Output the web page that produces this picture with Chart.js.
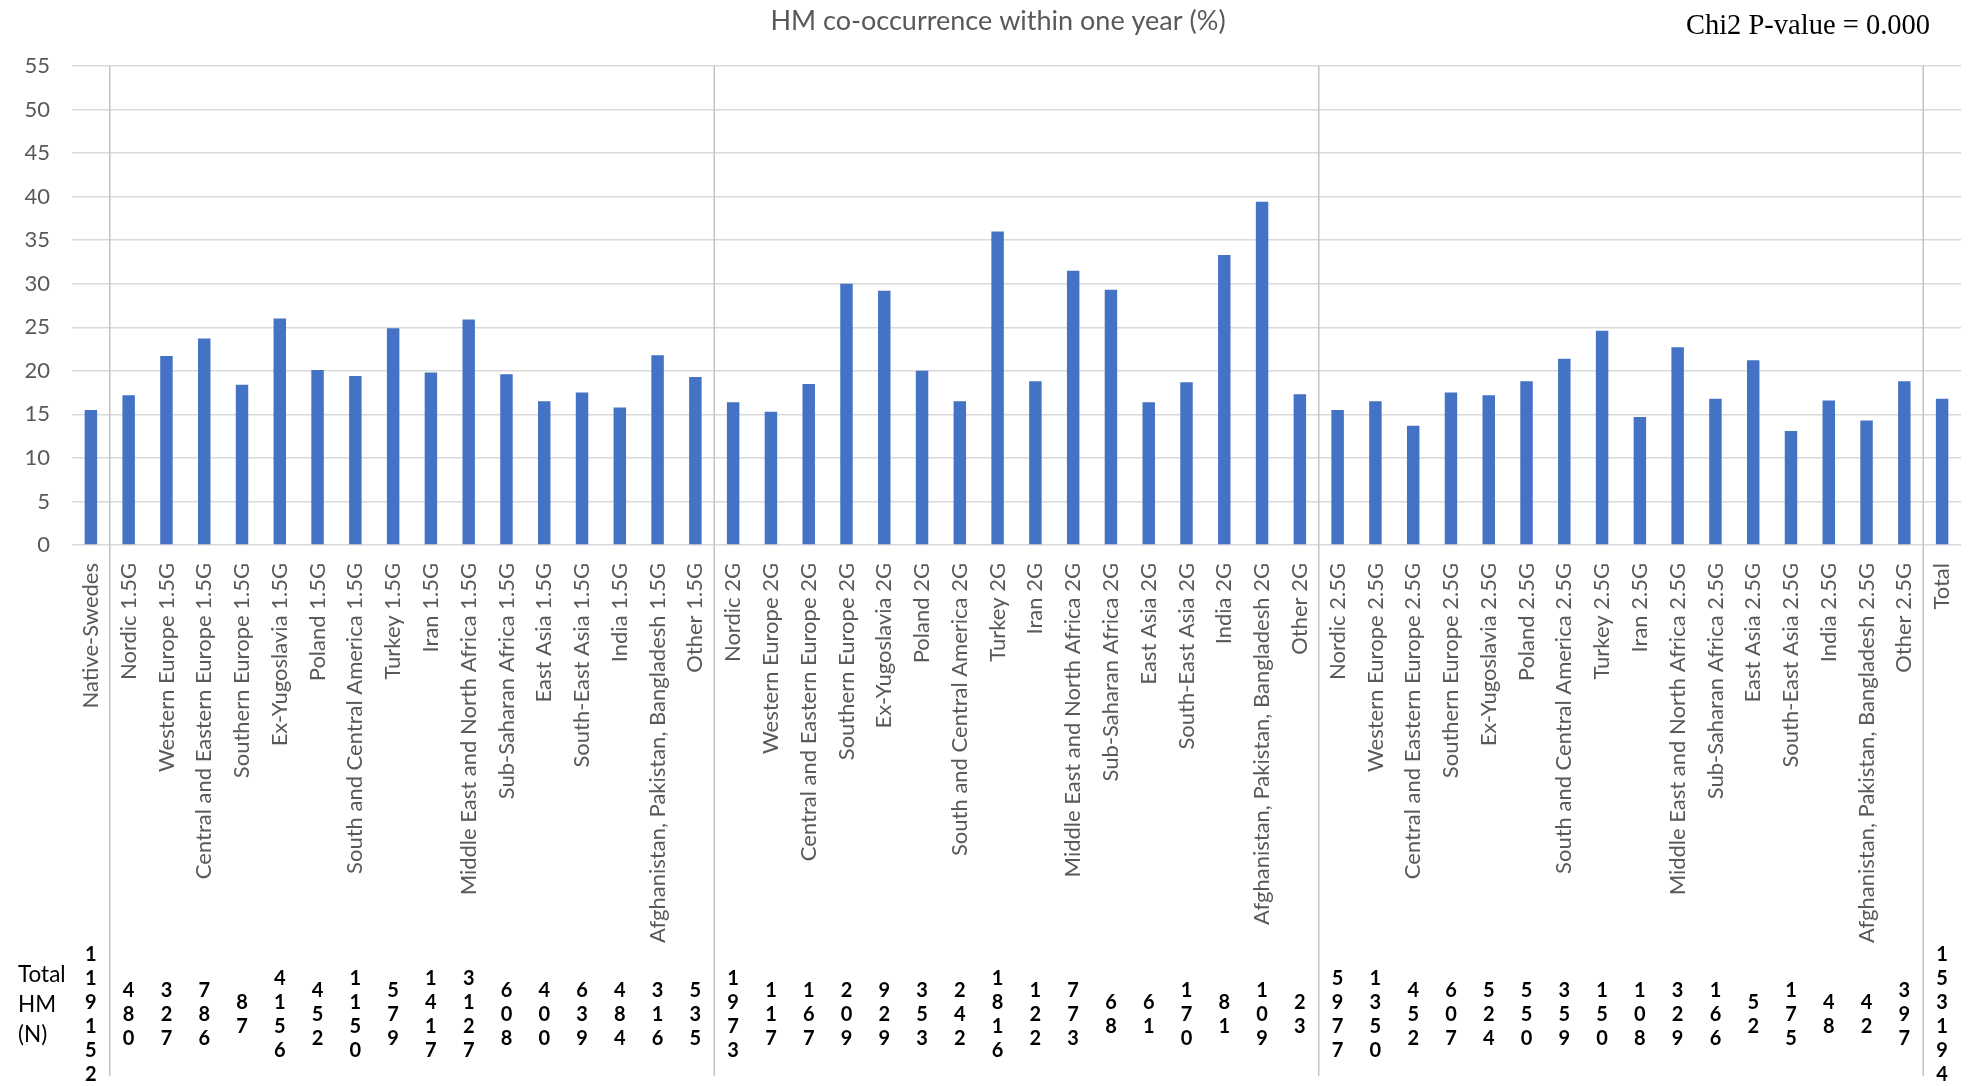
<html>
  <script src="https://cdn.jsdelivr.net/npm/chart.js"></script>
  <body style="margin: 0; background: #fff">
    <canvas id="myChart" width="1977" height="1086"></canvas>
  </body>
  <script>
    var categories = [
      "Native-Swedes",
      "Nordic 1.5G", "Western Europe 1.5G", "Central and Eastern Europe 1.5G", "Southern Europe 1.5G",
      "Ex-Yugoslavia 1.5G", "Poland 1.5G", "South and Central America 1.5G", "Turkey 1.5G", "Iran 1.5G",
      "Middle East and North Africa 1.5G", "Sub-Saharan Africa 1.5G", "East Asia 1.5G", "South-East Asia 1.5G",
      "India 1.5G", "Afghanistan, Pakistan, Bangladesh 1.5G", "Other 1.5G",
      "Nordic 2G", "Western Europe 2G", "Central and Eastern Europe 2G", "Southern Europe 2G",
      "Ex-Yugoslavia 2G", "Poland 2G", "South and Central America 2G", "Turkey 2G", "Iran 2G",
      "Middle East and North Africa 2G", "Sub-Saharan Africa 2G", "East Asia 2G", "South-East Asia 2G",
      "India 2G", "Afghanistan, Pakistan, Bangladesh 2G", "Other 2G",
      "Nordic 2.5G", "Western Europe 2.5G", "Central and Eastern Europe 2.5G", "Southern Europe 2.5G",
      "Ex-Yugoslavia 2.5G", "Poland 2.5G", "South and Central America 2.5G", "Turkey 2.5G", "Iran 2.5G",
      "Middle East and North Africa 2.5G", "Sub-Saharan Africa 2.5G", "East Asia 2.5G", "South-East Asia 2.5G",
      "India 2.5G", "Afghanistan, Pakistan, Bangladesh 2.5G", "Other 2.5G",
      "Total"
    ];

    // HM co-occurrence within one year (%)
    var coOccurrence = [
      15.5,
      17.2, 21.7, 23.7, 18.4, 26.0, 20.1, 19.4, 24.9, 19.8, 25.9, 19.6, 16.5, 17.5, 15.8, 21.8, 19.3,
      16.4, 15.3, 18.5, 30.0, 29.2, 20.0, 16.5, 36.0, 18.8, 31.5, 29.3, 16.4, 18.7, 33.3, 39.4, 17.3,
      15.5, 16.5, 13.7, 17.5, 17.2, 18.8, 21.4, 24.6, 14.7, 22.7, 16.8, 21.2, 13.1, 16.6, 14.3, 18.8,
      16.8
    ];

    // Total HM (N)
    var totalHM = [
      119152,
      480, 327, 786, 87, 4156, 452, 1150, 579, 1417, 3127, 608, 400, 639, 484, 316, 535,
      1973, 117, 167, 209, 929, 353, 242, 1816, 122, 773, 68, 61, 170, 81, 109, 23,
      5977, 1350, 452, 607, 524, 550, 359, 150, 108, 329, 166, 52, 175, 48, 42, 397,
      153194
    ];

    // group boundaries: a separator goes after these indexes
    var groupEnds = [0, 16, 32, 48];

    var chartTitle = "HM co-occurrence within one year (%)";
    var pValueText = "Chi2 P-value = 0.000";
    var nLabel = ["Total", "HM", "(N)"];

    var extras = {
      id: "extras",
      afterDraw(chart) {
        var ctx = chart.ctx;
        var area = chart.chartArea;
        var x = chart.scales.x;
        ctx.save();

        // group separators, running down through the N row
        ctx.strokeStyle = "#c4c4c4";
        ctx.lineWidth = 1.5;
        groupEnds.forEach(function (i) {
          var px = (x.getPixelForValue(i) + x.getPixelForValue(i + 1)) / 2;
          ctx.beginPath();
          ctx.moveTo(px, area.top);
          ctx.lineTo(px, 1076);
          ctx.stroke();
        });

        // title
        ctx.fillStyle = "#595959";
        ctx.font = "27px Lato";
        ctx.textAlign = "center";
        ctx.textBaseline = "middle";
        ctx.fillText(chartTitle, 998, 21);

        // p-value note
        ctx.fillStyle = "#000";
        ctx.font = "28.5px 'Liberation Serif'";
        ctx.textAlign = "right";
        ctx.textBaseline = "alphabetic";
        ctx.fillText(pValueText, 1930, 34);

        // N row label
        ctx.font = "22.5px Lato";
        ctx.textAlign = "left";
        ctx.textBaseline = "middle";
        nLabel.forEach(function (t, k) {
          ctx.fillText(t, 18, 975 + k * 30);
        });

        // N values, one digit per line
        ctx.font = "bold 20px Lato";
        ctx.textAlign = "center";
        var lineH = 24;
        totalHM.forEach(function (n, i) {
          var digits = String(n).split("");
          var cx = x.getPixelForValue(i);
          var y0 = 1015 - (digits.length - 1) * lineH / 2;
          digits.forEach(function (d, k) {
            ctx.fillText(d, cx, y0 + k * lineH);
          });
        });

        ctx.restore();
      }
    };

    var dataObj = {
      type: "bar",
      data: {
        labels: categories,
        datasets: [
          {
            label: chartTitle,
            data: coOccurrence,
            backgroundColor: "#4472C4",
            barPercentage: 0.33,
            categoryPercentage: 1.0,
          },
        ],
      },
      options: {
        responsive: false,
        animation: false,
        layout: {
          padding: { top: 66, right: 16, bottom: 0, left: 0 },
        },
        plugins: {
          legend: { display: false },
          tooltip: { enabled: false },
        },
        scales: {
          x: {
            grid: { display: false, drawTicks: false },
            border: { display: false },
            ticks: {
              autoSkip: false,
              maxRotation: 90,
              minRotation: 90,
              padding: 18,
              color: "#595959",
              font: { family: "Lato", size: 22 },
            },
            afterFit(s) {
              s.height = 541;
              s.paddingLeft = 0;
              s.paddingRight = 0;
            },
          },
          y: {
            min: 0,
            max: 55,
            ticks: {
              stepSize: 5,
              padding: 22,
              color: "#595959",
              font: { family: "Lato", size: 22 },
            },
            grid: { color: "#d9d9d9", lineWidth: 1.5, drawTicks: false },
            border: { display: false },
            afterFit(s) { s.width = 72; },
          },
        },
      },
      plugins: [extras],
    };
    const ctx = document.getElementById("myChart").getContext("2d");
    window.myBar = new Chart(ctx, dataObj);
  </script>
</html>
